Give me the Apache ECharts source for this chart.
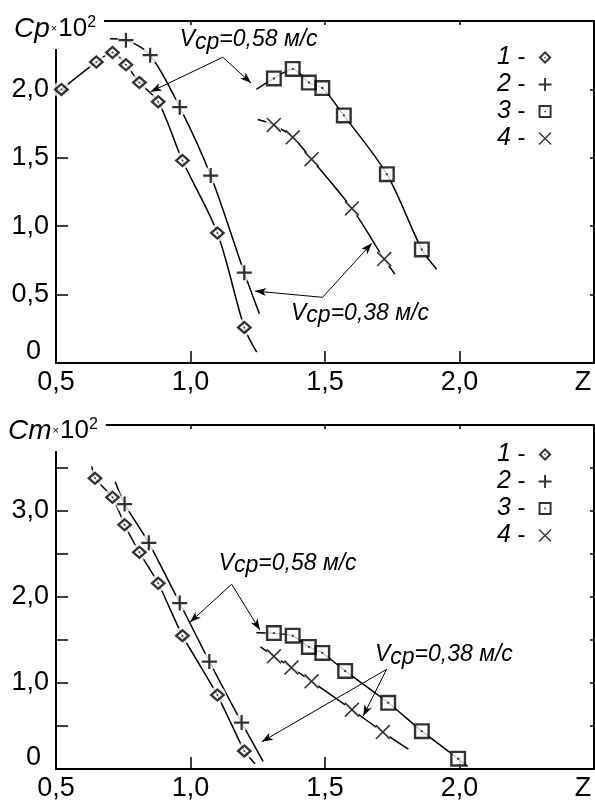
<!DOCTYPE html>
<html>
<head>
<meta charset="utf-8">
<script src="https://cdn.jsdelivr.net/npm/echarts@6/dist/echarts.min.js"></script>
<style>
  html, body { margin: 0; padding: 0; background: #fff; }
  #main { width: 595px; height: 803px; }
</style>
</head>
<body>
<div id="main"></div>
<script>
// ---- data ----
// top panel: Cp x 10^2 against Z
const cpDiamond = [[0.52, 2.00], [0.65, 2.20], [0.71, 2.27], [0.76, 2.18], [0.81, 2.05], [0.88, 1.91], [0.97, 1.48], [1.10, 0.95], [1.20, 0.26]];
const cpPlus = [[0.76, 2.36], [0.85, 2.25], [0.96, 1.87], [1.075, 1.37], [1.20, 0.66]];
const cpSquare = [[1.31, 2.08], [1.38, 2.15], [1.44, 2.05], [1.49, 2.01], [1.57, 1.81], [1.73, 1.38], [1.86, 0.83]];
const cpCross = [[1.31, 1.74], [1.38, 1.65], [1.45, 1.49], [1.60, 1.13], [1.72, 0.76]];
// where the drawn curves start / stop beyond the markers
const cpCurveEnds = [[null, [1.246, 0.08]], [[0.70, 2.37], [1.256, 0.36]], [[1.245, 2.0], [1.915, 0.685]], [[1.25, 1.78], [1.76, 0.65]]];

// bottom panel: Cm x 10^2 against Z
const cmDiamond = [[0.645, 3.38], [0.71, 3.16], [0.755, 2.84], [0.81, 2.52], [0.88, 2.16], [0.97, 1.55], [1.10, 0.86], [1.20, 0.21]];
const cmPlus = [[0.755, 3.08], [0.845, 2.63], [0.96, 1.93], [1.07, 1.25], [1.19, 0.54]];
const cmSquare = [[1.31, 1.58], [1.38, 1.55], [1.44, 1.42], [1.49, 1.35], [1.575, 1.14], [1.735, 0.77], [1.86, 0.44], [1.995, 0.12]];
const cmCross = [[1.31, 1.31], [1.375, 1.18], [1.45, 1.02], [1.60, 0.69], [1.715, 0.43]];
const cmCurveEnds = [[[0.633, 3.52], [1.24, 0.06]], [[0.72, 3.34], [1.27, 0.09]], [[1.245, 1.585], [2.03, 0.03]], [[1.26, 1.42], [1.81, 0.23]]];

// annotation arrows (from -> to) and notes, in data units
const cpArrows = [[[1.12, 2.235], [0.852, 1.983]], [[1.12, 2.235], [1.225, 2.047]], [[1.491, 0.48], [1.24, 0.526]], [[1.491, 0.48], [1.674, 0.875]]];
const cpNotes = [[1.216, 2.361, '0,58'], [1.63, 0.363, '0,38']];
const cmArrows = [[[1.153, 2.148], [0.998, 1.706]], [[1.153, 2.148], [1.258, 1.616]], [[1.729, 1.159], [1.265, 0.317]], [[1.729, 1.159], [1.642, 0.616]]];
const cmNotes = [[1.361, 2.392, '0,58'], [1.942, 1.326, '0,38']];

const seriesNames = ['1', '2', '3', '4'];

// ---- styling ----
const FONT = '"Liberation Sans", Arial, sans-serif';
const SYM = [
  'path://M10 0L20 10L10 20L0 10Z M10 4.4L4.4 10L10 15.6L15.6 10Z M9 9H11V11H9Z',
  'path://M8.5 0H11.5V20H8.5Z M0 8.5H20V11.5H0Z',
  'path://M0 0H20V20H0Z M3 3V17H17V3Z M8.8 8.8H11.2V11.2H8.8Z',
  'path://M0 1.5L1.5 0L20 18.5L18.5 20Z M18.5 0L20 1.5L1.5 20L0 18.5Z'
];
const SYM_SIZE = [[16, 14], [15, 15], [16, 16], [15, 15]];
const LABEL_SIZE = 27;

function num(v) {
  return v.toFixed(1).replace('.', ',');
}

const zeroRich = { o: { fontSize: LABEL_SIZE, fontFamily: FONT, color: '#000', padding: [0, 8, 22, 0] } };

function xAxes(g) {
  return [{
    gridIndex: g, type: 'value', position: 'bottom', min: 0.5, max: 2.5, interval: 0.5,
    axisLine: { show: true, onZero: false, lineStyle: { color: '#000', width: 2 } },
    axisTick: { show: true, inside: true, length: 12, lineStyle: { color: '#000', width: 1.5 } },
    axisLabel: {
      show: true, interval: 0, margin: 6, color: '#000', fontSize: LABEL_SIZE, fontFamily: FONT,
      formatter: v => Math.abs(v - 2.5) < 1e-6 ? '{z|Z}' : num(v),
      rich: { z: { fontSize: LABEL_SIZE, fontFamily: FONT, color: '#000', padding: [0, 22, 0, 0] } }
    },
    splitLine: { show: false }
  }, {
    gridIndex: g, type: 'value', position: 'top', min: 0.5, max: 2.5, interval: 0.5,
    axisLine: { show: true, onZero: false, lineStyle: { color: '#000', width: 2 } },
    axisTick: { show: true, inside: true, length: 4, lineStyle: { color: '#000', width: 1.5 } },
    axisLabel: { show: false },
    splitLine: { show: false }
  }];
}

function yAxes(g, max, fmt) {
  return [{
    gridIndex: g, type: 'value', position: 'left', min: 0, max: max, interval: 0.5,
    axisLine: { show: true, onZero: false, lineStyle: { color: '#000', width: 2 } },
    axisTick: { show: true, inside: true, length: 12, lineStyle: { color: '#000', width: 1.5 } },
    axisLabel: { show: true, interval: 0, margin: 7, color: '#000', fontSize: LABEL_SIZE, fontFamily: FONT, formatter: fmt, rich: zeroRich },
    splitLine: { show: false }
  }, {
    gridIndex: g, type: 'value', position: 'right', min: 0, max: max, interval: 0.5,
    axisLine: { show: true, onZero: false, lineStyle: { color: '#000', width: 2 } },
    axisTick: { show: true, inside: true, length: 4, lineStyle: { color: '#000', width: 1.5 } },
    axisLabel: { show: false },
    splitLine: { show: false }
  }];
}

const noteRich = {
  v: { fontSize: 23, fontStyle: 'italic', fontFamily: FONT, color: '#000' },
  s: { fontSize: 23, fontStyle: 'italic', fontFamily: FONT, color: '#000', padding: [5, 0, 0, 0] },
  t: { fontSize: 23, fontStyle: 'italic', fontFamily: FONT, color: '#000' }
};

function panelSeries(g, groups, ends, arrows, notes, smooth) {
  const ax = { xAxisIndex: 2 * g, yAxisIndex: 2 * g };
  const out = [];
  groups.forEach((pts, i) => {
    const s = ends[i][0], e = ends[i][1];
    const curve = (s ? [s] : []).concat(pts, e ? [e] : []);
    out.push(Object.assign({
      type: 'line', name: 'curve' + g + i, data: curve, smooth: smooth,
      symbol: 'none', showSymbol: false, silent: true, z: 2,
      lineStyle: { color: '#000', width: 1.5 }
    }, ax));
  });
  groups.forEach((pts, i) => {
    out.push(Object.assign({
      type: 'scatter', name: 'gap' + g + i, data: pts, symbol: 'circle', symbolSize: 17,
      itemStyle: { color: '#fff' }, silent: true, z: 3
    }, ax));
  });
  groups.forEach((pts, i) => {
    out.push(Object.assign({
      type: 'scatter', name: seriesNames[i], data: pts, symbol: SYM[i], symbolSize: SYM_SIZE[i],
      itemStyle: { color: '#000' }, silent: true, z: 4
    }, ax));
  });
  const last = out[out.length - 1];
  last.markLine = {
    silent: true, symbol: ['none', 'arrow'], symbolSize: [1, 10],
    label: { show: false },
    lineStyle: { color: '#000', width: 1, type: 'solid' },
    data: arrows.map(a => [{ coord: a[0] }, { coord: a[1], symbolSize: [6, 11] }])
  };
  last.markPoint = {
    silent: true, symbol: 'circle', symbolSize: 1,
    itemStyle: { color: 'rgba(0,0,0,0)' },
    data: notes.map(n => ({
      coord: [n[0], n[1]],
      label: {
        show: true, position: 'inside',
        formatter: '{v|V}{s|cp}{t|=' + n[2] + ' м/с}', rich: noteRich
      }
    }))
  };
  return out;
}

function titleOf(letter, left, top) {
  return {
    text: '{c|C' + letter + '}{x|×}{n|10}{s|2}',
    left: left, top: top, padding: [4, 8, 6, 8], backgroundColor: '#fff', z: 6,
    textStyle: {
      fontWeight: 'normal', fontSize: 26, color: '#000', fontFamily: FONT,
      rich: {
        c: { fontSize: 28, fontStyle: 'italic', fontWeight: 'normal', fontFamily: FONT, color: '#000' },
        x: { fontSize: 11, fontWeight: 'normal', fontFamily: FONT, color: '#000', verticalAlign: 'middle', padding: [0, 1, 0, 1] },
        n: { fontSize: 26, fontWeight: 'normal', fontFamily: FONT, color: '#000' },
        s: { fontSize: 16, fontWeight: 'normal', fontFamily: FONT, color: '#000', verticalAlign: 'top' }
      }
    }
  };
}

function legendOf(top) {
  return {
    orient: 'vertical', left: 492, top: top, align: 'right', selectedMode: false,
    itemWidth: 13, itemHeight: 13, itemGap: 2,
    data: seriesNames.map((n, i) => ({ name: n, icon: SYM[i] })),
    formatter: name => '{n|' + name + '}{d| -}',
    textStyle: {
      lineHeight: 22,
      rich: {
        n: { fontSize: 25, lineHeight: 22, fontStyle: 'italic', fontFamily: FONT, color: '#000' },
        d: { fontSize: 24, lineHeight: 22, fontFamily: FONT, color: '#000', padding: [0, 8, 0, 0] }
      }
    }
  };
}

const chart = echarts.init(document.getElementById('main'), null, { renderer: 'canvas' });
chart.setOption({
  animation: false,
  backgroundColor: '#fff',
  title: [titleOf('p', 6, 11), titleOf('m', 0, 413)],
  legend: [legendOf(40), legendOf(437)],
  grid: [
    { left: 56, top: 21, width: 538, height: 342 },
    { left: 56, top: 425, width: 538, height: 344 }
  ],
  xAxis: xAxes(0).concat(xAxes(1)),
  yAxis: yAxes(0, 2.5, v => v === 0 ? '{o|0}' : (v > 2.4 ? '' : num(v)))
    .concat(yAxes(1, 4, v => v === 0 ? '{o|0}' : (v % 1 !== 0 || v > 3.9 ? '' : num(v)))),
  series: panelSeries(0, [cpDiamond, cpPlus, cpSquare, cpCross], cpCurveEnds, cpArrows, cpNotes, 0.3)
    .concat(panelSeries(1, [cmDiamond, cmPlus, cmSquare, cmCross], cmCurveEnds, cmArrows, cmNotes, 0.2))
});
</script>
</body>
</html>
